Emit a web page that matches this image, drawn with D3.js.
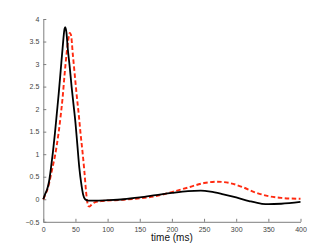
<!DOCTYPE html>
<html><head><meta charset="utf-8">
<script src="https://cdn.jsdelivr.net/npm/d3@7"></script>
<style>html,body{margin:0;padding:0;background:#fff;}svg{display:block;}</style>
</head><body>
<svg id="c" width="332" height="249"></svg>
<script>
const blackT = [0,3,6,9,12,15,18,21,24,27,30,33,34,36,38,41,44,47,50,53,56,59,62,65,70,80,100,125,150,175,200,225,245,260,280,300,320,340,350,370,400];
const blackV = [0,0.12,0.22,0.4,0.7,1.05,1.45,1.9,2.35,2.85,3.35,3.78,3.82,3.7,3.35,2.95,2.5,2.1,1.7,1.2,0.7,0.35,0.1,0.0,-0.03,-0.03,-0.02,0.0,0.04,0.09,0.14,0.18,0.19,0.17,0.11,0.04,-0.04,-0.1,-0.11,-0.1,-0.06];
const redT = [0,3,6,9,12,15,18,21,24,27,30,33,36,39,41,43,46,49,52,55,58,61,64,67,70,72,75,80,90,100,125,150,175,200,225,250,270,290,310,330,350,370,400];
const redV = [0,0.1,0.2,0.35,0.55,0.75,0.95,1.2,1.5,1.85,2.25,2.75,3.2,3.55,3.69,3.65,3.2,2.75,2.3,1.9,1.45,1.05,0.6,0.1,-0.15,-0.16,-0.12,-0.07,-0.04,-0.03,-0.01,0.02,0.07,0.16,0.26,0.36,0.39,0.36,0.27,0.15,0.07,0.03,0.01];
const xTicks = [0,50,100,150,200,250,300,350,400];
const yTicks = [-0.5,0,0.5,1,1.5,2,2.5,3,3.5,4];
const xLabel = "time (ms)";

const svg = d3.select("#c");
const x = d3.scaleLinear().domain([0,400]).range([43.3,300.5]);
const y = d3.scaleLinear().domain([-0.5,4]).range([221.8,19]);

const fmt = d => (d<0 ? "\u2212" + Math.abs(d) : String(d));
const axCol = "#7f7f7f";
const gx = svg.append("g").attr("transform",`translate(0,${y(-0.5)})`)
  .call(d3.axisBottom(x).tickValues(xTicks).tickSizeInner(-3).tickSizeOuter(0).tickPadding(5).tickFormat(fmt));
const gy = svg.append("g").attr("transform",`translate(${x(0)},0)`)
  .call(d3.axisLeft(y).tickValues(yTicks).tickSizeInner(-3).tickSizeOuter(0).tickPadding(4).tickFormat(fmt));
[gx,gy].forEach(g=>{
  g.select(".domain").attr("stroke",axCol).attr("stroke-width",1);
  g.selectAll(".tick line").attr("stroke",axCol);
  g.selectAll(".tick text").attr("fill","#444").attr("font-family","Liberation Sans, Arial, sans-serif").attr("font-size","7px");
});

const line = d3.line().curve(d3.curveMonotoneX);
svg.append("path").attr("d", line(redT.map((t,i)=>[x(t),y(redV[i])])))
  .attr("fill","none").attr("stroke","#ff2a10").attr("stroke-width",1.9).attr("stroke-dasharray","4.5,2.5");
svg.append("path").attr("d", line(blackT.map((t,i)=>[x(t),y(blackV[i])])))
  .attr("fill","none").attr("stroke","#000").attr("stroke-width",1.8);

svg.append("text").attr("x",(x(0)+x(400))/2).attr("y",241).attr("text-anchor","middle")
  .attr("font-family","Liberation Sans, Arial, sans-serif").attr("font-size","10px").attr("fill","#111").text(xLabel);
</script>
</body></html>
